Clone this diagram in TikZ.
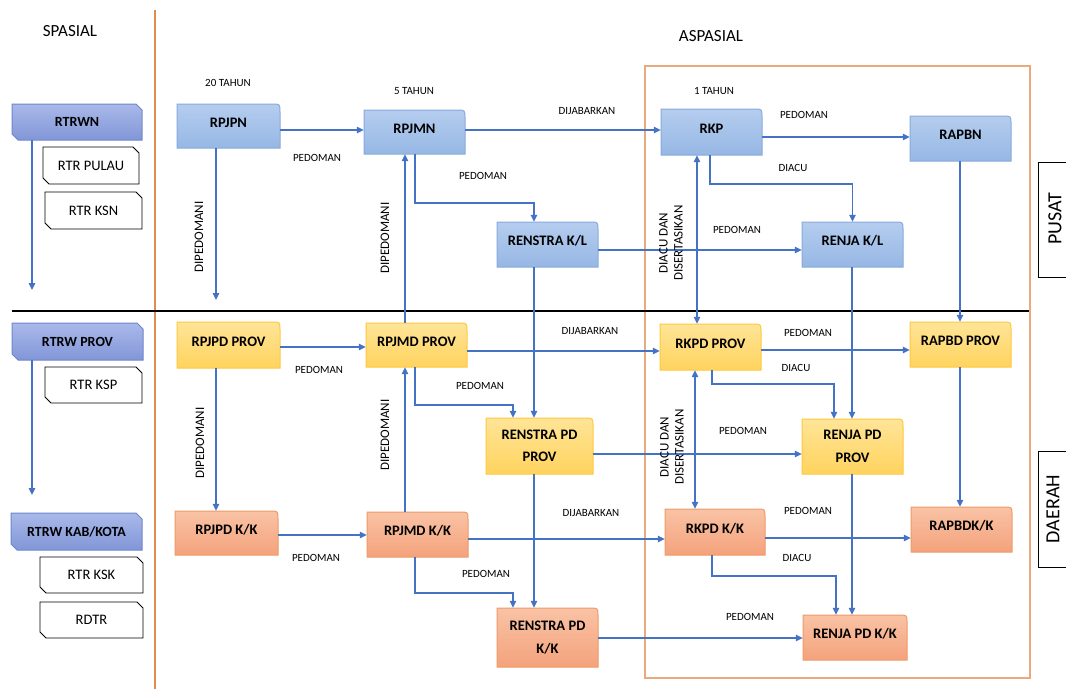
\documentclass[tikz,border=0pt]{standalone}
\usepackage{fontspec}
\setmainfont{Carlito}
\usetikzlibrary{arrows.meta,calc}
\definecolor{arrc}{HTML}{4472C4}
\definecolor{bluetop}{HTML}{B5CDEF}
\definecolor{bluebot}{HTML}{96B7E4}
\definecolor{blueedge}{HTML}{88AADB}
\definecolor{yeltop}{HTML}{FFE598}
\definecolor{yelbot}{HTML}{FFD35E}
\definecolor{yeledge}{HTML}{FFC83D}
\definecolor{saltop}{HTML}{F9C3A5}
\definecolor{salbot}{HTML}{F4A27C}
\definecolor{saledge}{HTML}{EF9A68}
\definecolor{lbtop}{HTML}{A9B9E9}
\definecolor{lbbot}{HTML}{8296D8}
\definecolor{lbedge}{HTML}{6E86CE}
\definecolor{orline}{HTML}{E08C4E}
\definecolor{orbox}{HTML}{EBAA7E}
\newcommand{\pbox}[8]{%
  \path[#6] (#2,#5) -- (#2,#3) -- ({#4-8},#3) .. controls (#4,#3) .. (#4,{#3+8}) -- (#4,#5) -- cycle;
  \node[boxtxt, minimum width={(#4-#2)*1pt}, minimum height={(#5-#3)*1pt}, #7] (#1) at ({(#2+#4)/2},{(#3+#5)/2}) {#8};
}
\newcommand{\snipbx}[8]{%
  \path[#6] ({#2+6},#5) -- (#2,{#5-6}) -- (#2,#3) -- ({#4-6},#3) -- (#4,{#3+6}) -- (#4,#5) -- cycle;
  \node[inner sep=0pt, minimum width={(#4-#2)*1pt}, minimum height={(#5-#3)*1pt}, #7] (#1) at ({(#2+#4)/2},{(#3+#5)/2}) {#8};
}
\tikzset{
  arr/.style={draw=arrc, line width=1.2pt, -{Triangle[length=7pt,width=6.5pt]}},
  darr/.style={draw=arrc, line width=1.2pt, {Triangle[length=7pt,width=6.5pt]}-{Triangle[length=7pt,width=6.5pt]}},
  lbl/.style={font=\fontsize{11}{14}\selectfont, inner sep=0pt},
  rlbl/.style={font=\fontsize{13}{15}\selectfont, inner sep=0pt, rotate=90, align=center},
  head/.style={font=\fontsize{17}{20}\selectfont, inner sep=0pt},
  bluefill/.style={top color=bluetop, bottom color=bluebot, draw=blueedge, line width=1pt},
  yelfill/.style={top color=yeltop, bottom color=yelbot, draw=yeledge, line width=1pt},
  salfill/.style={top color=saltop, bottom color=salbot, draw=saledge, line width=1pt},
  lbfill/.style={top color=lbtop, bottom color=lbbot, draw=lbedge, line width=1pt},
  whfill/.style={fill=white, draw=black, line width=0.9pt},
  boxtxt/.style={inner sep=0pt, font=\bfseries\fontsize{14.5}{22.5}\selectfont, align=center},
  one/.style={text height=10pt, text depth=8pt},
  lbtxt/.style={font=\bfseries\fontsize{14}{17}\selectfont},
  whtxt/.style={font=\fontsize{14.5}{17}\selectfont},
  side/.style={font=\fontsize{20}{24}\selectfont, rotate=90, inner sep=0pt}
}
\begin{document}
\begin{tikzpicture}[x=1pt,y=-1pt]
\useasboundingbox[fill=white] (0,0) rectangle (1066,689);
% frame lines
\draw[orline, line width=1.8pt] (155,10) coordinate (vtop) -- (155,689) coordinate (vbot);
\draw[orbox, line width=1.2pt] (645,66) rectangle (1030,678);
\draw[black, line width=2.8pt] (12,311) coordinate (hl) -- (1029,311) coordinate (hr);
% headings
\node[head] (spasial) at (70,31) {SPASIAL};
\node[head] (aspasial) at (711,36) {ASPASIAL};
% side boxes
\draw[black, line width=1pt] (1066,162) -- (1038,162) -- (1038,277) -- (1066,277);
\node[side] (pusat) at (1055,219) {PUSAT};
\draw[black, line width=1pt] (1066,451) -- (1038,451) -- (1038,567) -- (1066,567);
\node[side] (daerah) at (1053,509) {DAERAH};
% left column
\snipbx{rtrwn}{12}{104}{142}{140}{lbfill}{lbtxt}{RTRWN}
\snipbx{rtrpulau}{43}{147}{139}{184}{whfill}{whtxt}{RTR PULAU}
\snipbx{rtrksn}{45}{192}{142}{229}{whfill}{whtxt}{RTR KSN}
\snipbx{rtrwprov}{12}{323}{143}{360}{lbfill}{lbtxt}{RTRW PROV}
\snipbx{rtrksp}{45}{367}{142}{403}{whfill}{whtxt}{RTR KSP}
\snipbx{rtrwkab}{11}{513}{142}{550}{lbfill}{lbtxt}{RTRW KAB/KOTA}
\snipbx{rtrksk}{40}{557}{143}{593}{whfill}{whtxt}{RTR KSK}
\snipbx{rdtr}{40}{602}{143}{638}{whfill}{whtxt}{RDTR}
% time labels
\node[lbl] (t20) at (228,83) {20 TAHUN};
\node[lbl] (t5) at (414,91) {5 TAHUN};
\node[lbl] (t1) at (714,91) {1 TAHUN};
% pusat row
\pbox{rpjpn}{177}{104}{280}{148}{bluefill}{one}{RPJPN}
\pbox{rpjmn}{364}{110}{465}{154}{bluefill}{one}{RPJMN}
\pbox{renstrakl}{497}{222}{598}{267}{bluefill}{one}{RENSTRA K/L}
\pbox{rkp}{661}{109}{762}{155}{bluefill}{one}{RKP}
\pbox{rapbn}{910}{116}{1011}{161}{bluefill}{one}{RAPBN}
\pbox{renjakl}{802}{222}{903}{267}{bluefill}{one}{RENJA K/L}
% prov row
\pbox{rpjpdprov}{177}{322}{280}{368}{yelfill}{one}{RPJPD PROV}
\pbox{rpjmdprov}{366}{323}{467}{367}{yelfill}{one}{RPJMD PROV}
\pbox{renstrapdprov}{486}{418}{593}{474}{yelfill}{}{RENSTRA PD\\PROV}
\pbox{rkpdprov}{660}{324}{761}{370}{yelfill}{one}{RKPD PROV}
\pbox{rapbdprov}{910}{322}{1011}{367}{yelfill}{one}{RAPBD PROV}
\pbox{renjapdprov}{802}{419}{903}{474}{yelfill}{}{RENJA PD\\PROV}
% kk row
\pbox{rpjpdkk}{175}{511}{278}{555}{salfill}{one}{RPJPD K/K}
\pbox{rpjmdkk}{367}{512}{468}{557}{salfill}{one}{RPJMD K/K}
\pbox{renstrapdkk}{497}{608}{598}{667}{salfill}{}{RENSTRA PD\\K/K}
\pbox{rkpdkk}{665}{509}{765}{555}{salfill}{one}{RKPD K/K}
\pbox{rapbdkk}{911}{507}{1012}{552}{salfill}{one}{RAPBDK/K}
\pbox{renjapdkk}{803}{615}{907}{660}{salfill}{one}{RENJA PD K/K}
% helper coordinates
\coordinate (v32a) at (32,290);
\coordinate (v32b) at (32,495);
\coordinate (v216a) at (216,300);
\coordinate (v216) at (216,0);
\coordinate (v405) at (405,0);
\coordinate (v534) at (534,0);
\coordinate (v697) at (697,0);
\coordinate (v695) at (695,0);
\coordinate (v852) at (852,0);
\coordinate (v960) at (960,0);
\coordinate (h130) at (0,130);
\coordinate (h137) at (0,137);
\coordinate (h250) at (0,250);
\coordinate (h347) at (0,347);
\coordinate (h351) at (0,351);
\coordinate (h350) at (0,350);
\coordinate (h454) at (0,454);
\coordinate (h535) at (0,535);
\coordinate (h539) at (0,539);
\coordinate (h538) at (0,538);
\coordinate (h638) at (0,638);
\coordinate (b1) at (415,203);
\coordinate (b1e) at (534,203);
\coordinate (b2) at (710,184);
\coordinate (b3) at (415,405);
\coordinate (b3e) at (513,405);
\coordinate (b4) at (712,384);
\coordinate (b4e) at (834,384);
\coordinate (b5) at (415,593);
\coordinate (b5e) at (513,593);
\coordinate (b6) at (712,576);
\coordinate (b6e) at (836,576);
% left arrows
\draw[arr] (v32a |- rtrwn.south) -- (v32a);
\draw[arr] (v32b |- rtrwprov.south) -- (v32b);
% pusat connectors
\draw[arr] (rpjpn.east |- h130) -- (rpjmn.west |- h130);
\draw[arr] (v216a |- rpjpn.south) -- (v216a);
\draw[arr] (rpjmn.east |- h130) -- (rkp.west |- h130);
\draw[arr] (b1 |- rpjmn.south) -- (b1) -- (b1e) -- (b1e |- renstrakl.north);
\draw[arr] (v405 |- rpjmdprov.north) -- (v405 |- rpjmn.south);
\draw[arr] (renstrakl.east |- h250) -- (renjakl.west |- h250);
\draw[arr] (v534 |- renstrakl.south) -- (v534 |- renstrapdprov.north);
\draw[arr] (rkp.east |- h137) -- (rapbn.west |- h137);
\draw[arr] (b2 |- rkp.south) -- (b2) -| (renjakl.north);
\draw[darr] (v697 |- rkp.south) -- (v697 |- rkpdprov.north);
\draw[arr] (v852 |- renjakl.south) -- (v852 |- renjapdprov.north);
\draw[arr] (v960 |- rapbn.south) -- (v960 |- rapbdprov.north);
% prov connectors
\draw[arr] (rpjpdprov.east |- h347) -- (rpjmdprov.west |- h347);
\draw[arr] (v216 |- rpjpdprov.south) -- (v216 |- rpjpdkk.north);
\draw[arr] (rpjmdprov.east |- h351) -- (rkpdprov.west |- h351);
\draw[arr] (b3 |- rpjmdprov.south) -- (b3) -- (b3e) -- (b3e |- renstrapdprov.north);
\draw[arr] (renstrapdprov.east |- h454) -- (renjapdprov.west |- h454);
\draw[arr] (v534 |- renstrapdprov.south) -- (v534 |- renstrapdkk.north);
\draw[arr] (rkpdprov.east |- h350) -- (rapbdprov.west |- h350);
\draw[arr] (b4 |- rkpdprov.south) -- (b4) -- (b4e) -- (b4e |- renjapdprov.north);
\draw[darr] (v695 |- rkpdprov.south) -- (v695 |- rkpdkk.north);
\draw[arr] (v852 |- renjapdprov.south) -- (v852 |- renjapdkk.north);
\draw[arr] (v960 |- rapbdprov.south) -- (v960 |- rapbdkk.north);
% kk connectors
\draw[arr] (rpjpdkk.east |- h535) -- (rpjmdkk.west |- h535);
\draw[arr] (v405 |- rpjmdkk.north) -- (v405 |- rpjmdprov.south);
\draw[arr] (rpjmdkk.east |- h539) -- (rkpdkk.west |- h539);
\draw[arr] (b5 |- rpjmdkk.south) -- (b5) -- (b5e) -- (b5e |- renstrapdkk.north);
\draw[arr] (renstrapdkk.east |- h638) -- (renjapdkk.west |- h638);
\draw[arr] (rkpdkk.east |- h538) -- (rapbdkk.west |- h538);
\draw[arr] (b6 |- rkpdkk.south) -- (b6) -- (b6e) -- (b6e |- renjapdkk.north);
% connector labels
\node[lbl] (l1) at (317,158) {PEDOMAN};
\node[rlbl] (l2) at (199,237) {DIPEDOMANI};
\node[lbl] (l3) at (587,111) {DIJABARKAN};
\node[lbl] (l4) at (483,176) {PEDOMAN};
\node[rlbl] (l5) at (385,238) {DIPEDOMANI};
\node[lbl] (l6) at (737,230) {PEDOMAN};
\node[lbl] (l7) at (804,115) {PEDOMAN};
\node[lbl] (l8) at (793,168) {DIACU};
\node[rlbl] (l9) at (671,243) {DIACU DAN\\DISERTASIKAN};
\node[lbl] (l10) at (319,370) {PEDOMAN};
\node[rlbl] (l11) at (200,443) {DIPEDOMANI};
\node[lbl] (l12) at (590,331) {DIJABARKAN};
\node[lbl] (l13) at (480,386) {PEDOMAN};
\node[rlbl] (l14) at (385,435) {DIPEDOMANI};
\node[lbl] (l15) at (743,431) {PEDOMAN};
\node[lbl] (l16) at (808,333) {PEDOMAN};
\node[lbl] (l17) at (796,368) {DIACU};
\node[rlbl] (l18) at (672,447) {DIACU DAN\\DISERTASIKAN};
\node[lbl] (l19) at (316,558) {PEDOMAN};
\node[lbl] (l20) at (591,513) {DIJABARKAN};
\node[lbl] (l21) at (486,574) {PEDOMAN};
\node[lbl] (l22) at (750,617) {PEDOMAN};
\node[lbl] (l23) at (808,511) {PEDOMAN};
\node[lbl] (l24) at (797,558) {DIACU};
\end{tikzpicture}
\end{document}
